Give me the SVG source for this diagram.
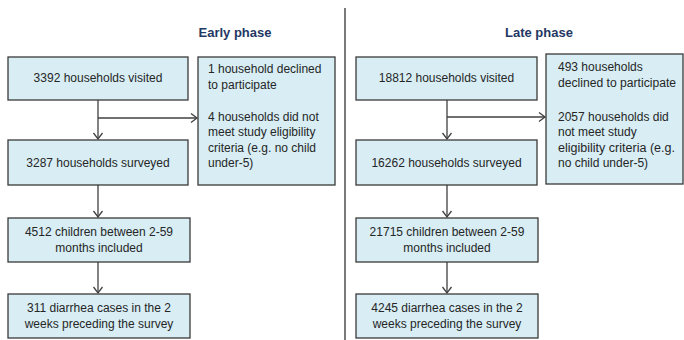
<svg xmlns="http://www.w3.org/2000/svg" width="684" height="340" viewBox="0 0 684 340">
<defs>
<marker id="arr" markerWidth="10" markerHeight="12" refX="7" refY="5" orient="auto" markerUnits="userSpaceOnUse">
<path d="M1,0.5 L7,5 L1,9.5" fill="none" stroke="#404040" stroke-width="1.3"/>
</marker>
</defs>
<style>
.box{fill:#d8edf4;stroke:#3a3a3a;stroke-width:1.3}
.t{font-family:"Liberation Sans",Arial,sans-serif;font-size:12px;fill:#262626}
.c{text-anchor:middle}
.title{font-family:"Liberation Sans",Arial,sans-serif;font-size:13px;font-weight:bold;fill:#1f3864;text-anchor:middle}
.ln{fill:none;stroke:#404040;stroke-width:1.3}
</style>
<rect width="684" height="340" fill="#ffffff"/>
<line x1="345" y1="8" x2="345" y2="340" stroke="#222" stroke-width="1.2"/>
<text class="title" x="235" y="37">Early phase</text>
<text class="title" x="539" y="37">Late phase</text>
<g id="connectors">
<line class="ln" x1="98" y1="100" x2="98" y2="139" marker-end="url(#arr)"/>
<line class="ln" x1="98" y1="118" x2="197" y2="118" marker-end="url(#arr)"/>
<line class="ln" x1="98" y1="185" x2="98" y2="217" marker-end="url(#arr)"/>
<line class="ln" x1="98" y1="262" x2="98" y2="293" marker-end="url(#arr)"/>
<line class="ln" x1="447" y1="100" x2="447" y2="139" marker-end="url(#arr)"/>
<line class="ln" x1="447" y1="117" x2="545" y2="117" marker-end="url(#arr)"/>
<line class="ln" x1="447" y1="185" x2="447" y2="217" marker-end="url(#arr)"/>
<line class="ln" x1="447" y1="262" x2="447" y2="293" marker-end="url(#arr)"/>
</g>
<g id="e_visited"><rect class="box" x="8" y="57" width="180" height="43"/><text class="t c" x="98" y="82">3392 households visited</text></g>
<g id="e_excluded"><rect class="box" x="198" y="57" width="137" height="128"/>
<text class="t" x="208" y="73">1 household declined</text>
<text class="t" x="208" y="89">to participate</text>
<text class="t" x="208" y="121">4 households did not</text>
<text class="t" x="208" y="136">meet study eligibility</text>
<text class="t" x="208" y="152">criteria (e.g. no child</text>
<text class="t" x="208" y="167">under-5)</text></g>
<g id="e_surveyed"><rect class="box" x="8" y="140" width="180" height="45"/><text class="t c" x="98" y="167">3287 households surveyed</text></g>
<g id="e_children"><rect class="box" x="8" y="218" width="182" height="44"/><text class="t c" x="99" y="236">4512 children between 2-59</text><text class="t c" x="99" y="252">months included</text></g>
<g id="e_cases"><rect class="box" x="8" y="294" width="182" height="44"/><text class="t c" x="99" y="312">311 diarrhea cases in the 2</text><text class="t c" x="99" y="328">weeks preceding the survey</text></g>
<g id="l_visited"><rect class="box" x="356" y="57" width="181" height="43"/><text class="t c" x="446.5" y="82">18812 households visited</text></g>
<g id="l_excluded"><rect class="box" x="546" y="54" width="137" height="130"/>
<text class="t" x="558" y="71">493 households</text>
<text class="t" x="558" y="87" textLength="118" lengthAdjust="spacingAndGlyphs">declined to participate</text>
<text class="t" x="558" y="121">2057 households did</text>
<text class="t" x="558" y="136">not meet study</text>
<text class="t" x="558" y="152" textLength="117" lengthAdjust="spacingAndGlyphs">eligibility criteria (e.g.</text>
<text class="t" x="558" y="167">no child under-5)</text></g>
<g id="l_surveyed"><rect class="box" x="356" y="140" width="181" height="45"/><text class="t c" x="446.5" y="167">16262 households surveyed</text></g>
<g id="l_children"><rect class="box" x="356" y="218" width="182" height="44"/><text class="t c" x="447" y="236">21715 children between 2-59</text><text class="t c" x="447" y="252">months included</text></g>
<g id="l_cases"><rect class="box" x="356" y="294" width="182" height="44"/><text class="t c" x="447" y="312">4245 diarrhea cases in the 2</text><text class="t c" x="447" y="328">weeks preceding the survey</text></g>
</svg>
